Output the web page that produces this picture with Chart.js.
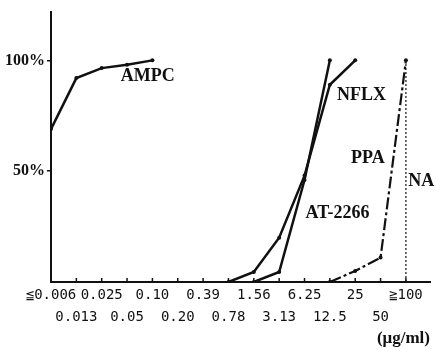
<!DOCTYPE html>
<html lang="en">
<head>
<meta charset="UTF-8">
<title>Cumulative susceptibility</title>
<script src="https://cdn.jsdelivr.net/npm/chart.js"></script>
<style>
  html, body { margin: 0; padding: 0; background: #fff; }
</style>
</head>
<body>
<canvas id="chart" width="436" height="350"></canvas>
<script>
// MIC steps (µg/ml)
const categories = ['≦0.006', '0.013', '0.025', '0.05', '0.10', '0.20', '0.39', '0.78',
                    '1.56', '3.13', '6.25', '12.5', '25', '50', '≧100'];

// cumulative % of strains inhibited, null = not plotted
const ampc   = [69, 92, 96.5, 98, 100, null, null, null, null, null, null, null, null, null, null];
const nflx   = [null, null, null, null, null, null, null, 0, 4.5, 20, 48, 89, 100, null, null];
const at2266 = [null, null, null, null, null, null, null, null, 0, 4.5, 46, 100, null, null, null];
const ppa    = [null, null, null, null, null, null, null, null, null, null, null, 0, 5, 11, 100];
const na     = [null, null, null, null, null, null, null, null, null, null, null, null, null, null, [0, 100]];

const seriesNames = ['AMPC', 'NFLX', 'AT-2266', 'PPA', 'NA'];
const yTicks = [50, 100];

const ink = '#111';

function toPoints(arr) {
  const pts = [];
  arr.forEach((v, i) => {
    if (v === null) { pts.push({ x: i, y: null }); return; }
    if (Array.isArray(v)) { v.forEach(y => pts.push({ x: i, y: y })); return; }
    pts.push({ x: i, y: v });
  });
  return pts;
}

function lineSet(name, arr, extra) {
  return Object.assign({
    label: name,
    data: toPoints(arr),
    borderColor: ink,
    backgroundColor: ink,
    borderWidth: 2.5,
    pointRadius: 2,
    pointBorderWidth: 0,
    tension: 0,
    spanGaps: false
  }, extra || {});
}

// where the series names sit, in axis units (category index, %)
const namePlaces = {
  'AMPC': [3.82, 93],
  'NFLX': [12.25, 84],
  'AT-2266': [11.3, 31],
  'PPA': [12.5, 56],
  'NA': [14.6, 45.5]
};

const extras = {
  id: 'extras',
  afterDatasetsDraw(chart) {
    const { ctx, scales: { x, y } } = chart;
    ctx.save();
    // small tick marks pointing up from the x axis
    ctx.strokeStyle = ink;
    ctx.lineWidth = 1.5;
    categories.forEach((c, i) => {
      const px = x.getPixelForValue(i);
      ctx.beginPath();
      ctx.moveTo(px, y.bottom);
      ctx.lineTo(px, y.bottom - 4);
      ctx.stroke();
    });
    // series names
    ctx.fillStyle = ink;
    ctx.textAlign = 'center';
    ctx.textBaseline = 'middle';
    ctx.font = 'bold 18px "Liberation Serif"';
    seriesNames.forEach(name => {
      const p = namePlaces[name];
      ctx.fillText(name, x.getPixelForValue(p[0]), y.getPixelForValue(p[1]));
    });
    ctx.restore();
  }
};

new Chart(document.getElementById('chart').getContext('2d'), {
  type: 'line',
  data: {
    datasets: [
      lineSet('AMPC', ampc),
      lineSet('NFLX', nflx),
      lineSet('AT-2266', at2266),
      lineSet('PPA', ppa, { borderDash: [12, 3, 3, 3], borderWidth: 2.2 }),
      lineSet('NA', na, { borderDash: [2, 2], borderWidth: 1.2, pointRadius: 0 })
    ]
  },
  options: {
    responsive: false,
    animation: false,
    layout: { padding: { top: 8, right: 6, left: 0, bottom: 0 } },
    plugins: {
      legend: { display: false },
      tooltip: { enabled: false }
    },
    scales: {
      x: {
        type: 'linear',
        min: 0,
        max: 14.95,
        afterBuildTicks: scale => { scale.ticks = categories.map((c, i) => ({ value: i })); },
        afterFit: scale => { scale.height = 68; },
        grid: { display: false, drawTicks: false },
        border: { display: true, color: ink, width: 2 },
        ticks: {
          autoSkip: false,
          maxRotation: 0,
          minRotation: 0,
          padding: 2,
          color: ink,
          font: { family: '"DejaVu Sans Mono"', size: 14, lineHeight: 1.57 },
          callback: (v, i) => (i % 2 === 0 ? [categories[v], ''] : ['', categories[v]])
        },
        title: {
          display: true,
          text: '(μg/ml)',
          align: 'end',
          color: ink,
          font: { family: '"Liberation Serif"', size: 17, weight: 'bold' },
          padding: { top: 0, bottom: 1 }
        }
      },
      y: {
        min: 0,
        max: 122,
        afterBuildTicks: scale => { scale.ticks = yTicks.map(v => ({ value: v })); },
        afterFit: scale => { scale.width = 51; },
        grid: { display: true, drawOnChartArea: false, drawTicks: true, tickLength: 4, color: ink, lineWidth: 1.5 },
        border: { display: true, color: ink, width: 2 },
        ticks: {
          padding: 2,
          color: ink,
          font: { family: '"Liberation Serif"', size: 16, weight: 'bold' },
          callback: v => v + '%'
        }
      }
    }
  },
  plugins: [extras]
});
</script>
</body>
</html>
